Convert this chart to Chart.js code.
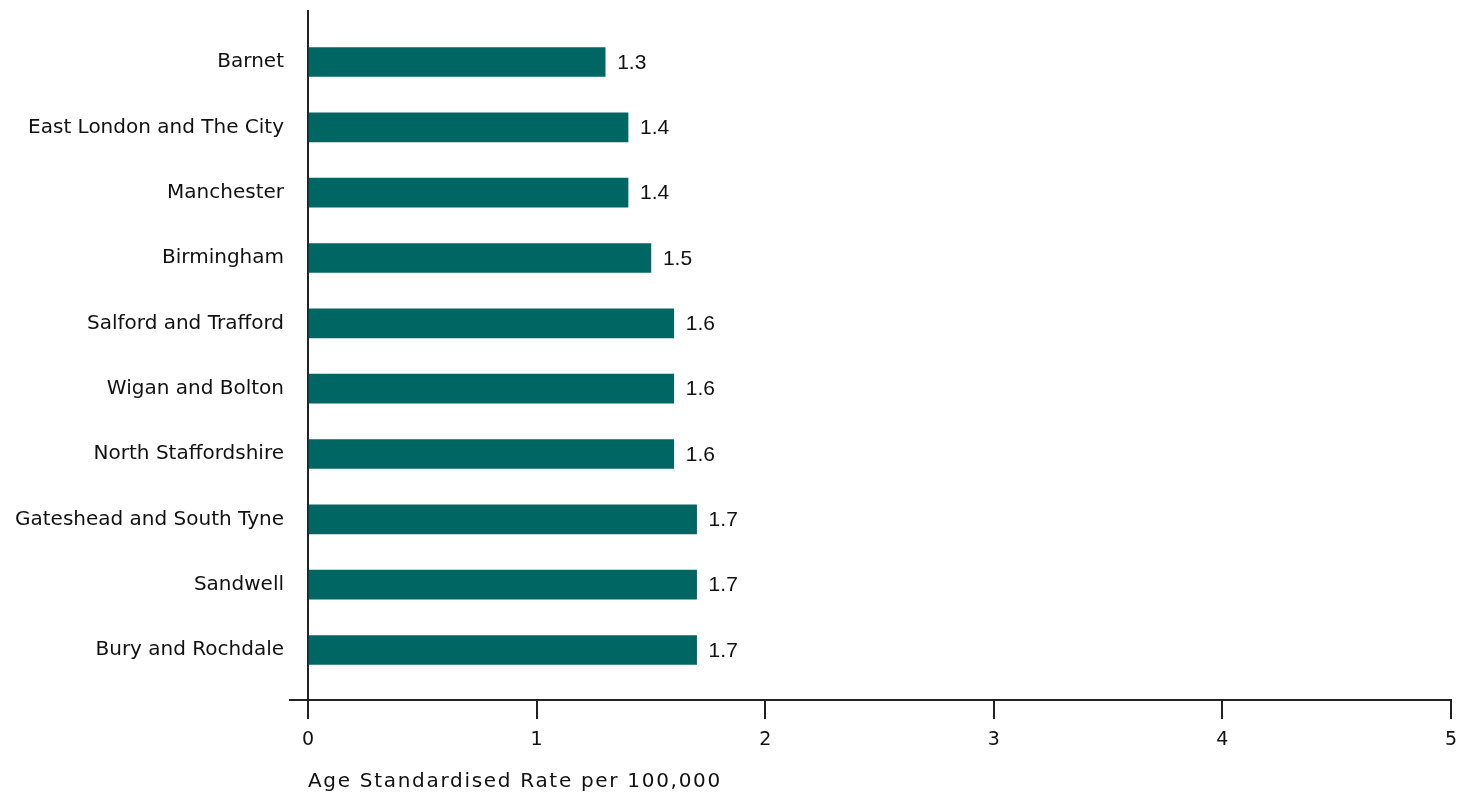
<!DOCTYPE html>
<html>
<head>
<meta charset="utf-8">
<script src="https://cdn.jsdelivr.net/npm/chart.js@4"></script>
<style>
html,body{margin:0;padding:0;background:#fff;}
#wrap{width:1471px;height:798px;position:relative;}
</style>
</head>
<body>
<div id="wrap"><canvas id="c" width="1471" height="798"></canvas></div>
<script>
const categories = ["Barnet","East London and The City","Manchester","Birmingham","Salford and Trafford","Wigan and Bolton","North Staffordshire","Gateshead and South Tyne","Sandwell","Bury and Rochdale"];
const rates = [1.3,1.4,1.4,1.5,1.6,1.6,1.6,1.7,1.7,1.7];
const valueLabels = ["1.3","1.4","1.4","1.5","1.6","1.6","1.6","1.7","1.7","1.7"];
const xTicks = [0,1,2,3,4,5];
const xTitle = "Age Standardised Rate per 100,000";

const FONT = "'DejaVu Sans', 'Liberation Sans', sans-serif";
const VFONT = "'Liberation Sans Narrow', 'Liberation Sans', Arial, sans-serif";
const AXIS = '#222';

const valuePlugin = {
  id: 'valueLabels',
  afterDatasetsDraw(chart) {
    const ctx = chart.ctx;
    const meta = chart.getDatasetMeta(0);
    ctx.save();
    ctx.font = '21px ' + VFONT;
    ctx.fillStyle = '#111';
    ctx.textBaseline = 'middle';
    ctx.textAlign = 'left';
    meta.data.forEach((el, i) => {
      ctx.fillText(valueLabels[i], el.x + 12, el.y + 1);
    });
    ctx.restore();
  },
  afterDraw(chart) {
    const ctx = chart.ctx;
    const xs = chart.scales.x;
    ctx.save();
    ctx.font = '20px ' + FONT;
    ctx.fillStyle = '#111';
    ctx.textBaseline = 'middle';
    ctx.textAlign = 'left';
    try { ctx.letterSpacing = '1.7px'; } catch(e) {}
    ctx.fillText(xTitle, xs.getPixelForValue(0), 782);
    ctx.restore();
  }
};

new Chart(document.getElementById('c'), {
  type: 'bar',
  data: {
    datasets: [{
      data: rates.map((v, i) => ({x: v, y: i})),
      backgroundColor: '#006663',
      borderWidth: 0,
      barThickness: 29
    }]
  },
  options: {
    indexAxis: 'y',
    responsive: false,
    animation: false,
    layout: { padding: { top: 10, right: 20, left: 0, bottom: 0 } },
    plugins: { legend: { display: false }, tooltip: { enabled: false } },
    scales: {
      x: {
        type: 'linear',
        min: -0.0787,
        max: 5,
        afterBuildTicks: s => { s.ticks = xTicks.map(v => ({value: v})); },
        afterFit: s => { s.height = 98; },
        border: { display: true, color: AXIS, width: 2 },
        grid: {
          color: c => (c.tick && c.tick.value === 0) ? AXIS : 'rgba(0,0,0,0)',
          tickColor: AXIS,
          lineWidth: 2,
          tickLength: 19,
          drawOnChartArea: true
        },
        ticks: {
          color: '#111',
          font: { family: FONT, size: 19 },
          padding: 10,
          maxRotation: 0,
          callback: v => String(v)
        }
      },
      y: {
        type: 'linear',
        reverse: true,
        offset: false,
        min: -0.796,
        max: 9.765,
        afterBuildTicks: s => { s.ticks = categories.map((_, i) => ({value: i})); },
        afterFit: s => { s.width = 290; s.paddingTop = 0; s.paddingBottom = 0; },
        border: { display: false },
        grid: { display: false, drawTicks: false, offset: false },
        ticks: {
          color: '#111',
          font: { family: FONT, size: 20 },
          padding: 6,
          autoSkip: false,
          callback: v => categories[v]
        }
      }
    }
  },
  plugins: [valuePlugin]
});
</script>
</body>
</html>
